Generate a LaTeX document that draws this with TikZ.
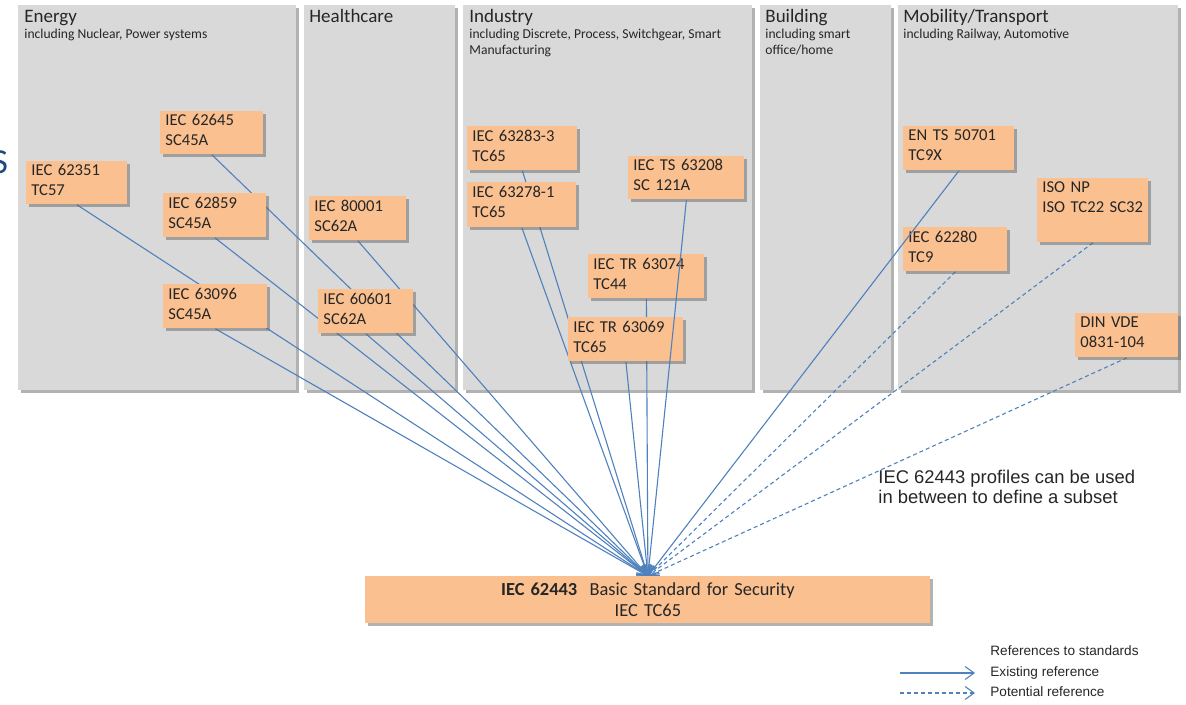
\documentclass[tikz,border=0pt]{standalone}
\usepackage{fontspec}
\setmainfont{Carlito}
\newfontfamily\arialfont{Liberation Sans}
\usetikzlibrary{shadows,arrows.meta,positioning,backgrounds}

\definecolor{panelgray}{HTML}{D9D9D9}
\definecolor{stdorange}{HTML}{FAC090}
\definecolor{refblue}{HTML}{4F81BD}
\definecolor{titleblue}{HTML}{1F497D}
\definecolor{inkgray}{HTML}{262626}

\pgfdeclarelayer{panels}
\pgfdeclarelayer{links}
\pgfsetlayers{panels,links,main}

\begin{document}
\begin{tikzpicture}
[x=0.5pt, y=-0.5pt,
panel/.style={shape=rectangle, fill=panelgray, anchor=north west, inner sep=0pt,
  drop shadow={shadow xshift=1.5pt, shadow yshift=-1.5pt, fill=black!60, opacity=.5}},
sectorhead/.style={anchor=base west, inner sep=0pt, text=inkgray, font=\fontsize{9.5}{11}\selectfont},
sectornote/.style={anchor=north west, inner sep=0pt, align=left, text=inkgray, font=\fontsize{6.8}{8}\selectfont},
%
std/.style={shape=rectangle, fill=stdorange, anchor=north west, align=left, inner xsep=2.5pt, inner ysep=0pt,
  text=inkgray, font=\fontsize{8.3}{10}\selectfont,
  drop shadow={shadow xshift=1.5pt, shadow yshift=-1.5pt, fill=black!60, opacity=.5}},
basestd/.style={std, align=center, font=\fontsize{9.2}{10.5}\selectfont},
%
stdref/.style={draw=refblue, line width=.55pt, -{Straight Barb[length=4.5pt,width=6.5pt]}},
potref/.style={stdref, dash pattern=on 2pt off 1.5pt},
legendtext/.style={anchor=base west, inner sep=0pt, text=inkgray, font=\arialfont\fontsize{6.8}{8}\selectfont}]

\useasboundingbox (0,0) rectangle (1186,705);

\node (cutS) [anchor=base, inner sep=0pt, text=titleblue, font=\fontsize{17.5}{20}\selectfont] at (0,174) {S};

% sectors
\begin{pgfonlayer}{panels}
\node (energy) [panel, minimum width=139pt, minimum height=192.5pt] at (18,5) {};
\node (health) [panel, minimum width=75.5pt, minimum height=192.5pt] at (304,5) {};
\node (industry) [panel, minimum width=144.5pt, minimum height=192.5pt] at (463,5) {};
\node (building) [panel, minimum width=65.5pt, minimum height=192.5pt] at (760,5) {};
\node (mobility) [panel, minimum width=140pt, minimum height=192.5pt] at (898,5) {};
\end{pgfonlayer}

\node (energyhead) [sectorhead] at (24,23) {Energy};
\node (energynote) [sectornote] at (24,29) {including Nuclear, Power systems};
\node (healthhead) [sectorhead] at (309,23) {Healthcare};
\node (industryhead) [sectorhead] at (469,23) {Industry};
\node (industrynote) [sectornote] at (469,29) {including Discrete, Process, Switchgear, Smart\\Manufacturing};
\node (buildinghead) [sectorhead] at (765,23) {Building};
\node (buildingnote) [sectornote] at (765,29) {including smart\\office/home};
\node (mobilityhead) [sectorhead] at (903,23) {Mobility/Transport};
\node (mobilitynote) [sectornote] at (903,29) {including Railway, Automotive};

% standards
\node (e62645) [std, text width=46.5pt, minimum height=21.5pt] at (160,111) {IEC 62645\\SC45A\strut};
\node (e62351) [std, text width=45.5pt, minimum height=21.5pt] at (26,161) {IEC 62351\\TC57\strut};
\node (e62859) [std, text width=46.5pt, minimum height=22pt] at (163,193) {IEC 62859\\SC45A\strut};
\node (e63096) [std, text width=47pt, minimum height=22pt] at (163,284) {IEC 63096\\SC45A\strut};
\node (h80001) [std, text width=43.5pt, minimum height=22pt] at (309,196) {IEC 80001\\SC62A\strut};
\node (h60601) [std, text width=42.5pt, minimum height=22pt] at (318,289) {IEC 60601\\SC62A\strut};
\node (i63283) [std, text width=50pt, minimum height=22pt] at (467,126) {IEC 63283-3\\TC65\strut};
\node (i63278) [std, text width=49.5pt, minimum height=22.5pt] at (467,182) {IEC 63278-1\\TC65\strut};
\node (i63208) [std, text width=53pt, minimum height=21.5pt] at (628,156) {IEC TS 63208\\SC 121A\strut};
\node (i63074) [std, text width=53pt, minimum height=22pt] at (588,254) {IEC TR 63074\\TC44\strut};
\node (i63069) [std, text width=52.5pt, minimum height=22pt] at (568,317) {IEC TR 63069\\TC65\strut};
\node (m50701) [std, text width=50.5pt, minimum height=22pt] at (903,126) {EN TS 50701\\TC9X\strut};
\node (mison) [std, text width=50.5pt, minimum height=32pt] at (1037,178) {ISO NP\\ISO TC22 SC32\\\strut};
\node (m62280) [std, text width=47pt, minimum height=22pt] at (903,227) {IEC 62280\\TC9\strut};
\node (mdinvde) [std, text width=46.5pt, minimum height=22pt] at (1075,313) {DIN VDE\\0831-104\strut};

\node (iec62443) [basestd, text width=277.5pt, minimum height=23.5pt] at (365,576) {\textbf{IEC 62443}\ \ Basic Standard for Security\\IEC TC65};

% references
\begin{pgfonlayer}{links}
\draw[stdref] (e62351.south) -- (iec62443.north);
\draw[stdref] (e62645.south) -- (iec62443.north);
\draw[stdref] (e62859.south) -- (iec62443.north);
\draw[stdref] (e63096.south) -- (iec62443.north);
\draw[stdref] (h80001.south) -- (iec62443.north);
\draw[stdref] (h60601.south) -- (iec62443.north);
\draw[stdref] (i63283.south) -- (iec62443.north);
\draw[stdref] (i63278.south) -- (iec62443.north);
\draw[stdref] (i63074.south) -- (iec62443.north);
\draw[stdref] (i63069.south) -- (iec62443.north);
\draw[potref] (m62280.south) -- (iec62443.north);
\draw[potref] (mison.south) -- (iec62443.north);
\draw[potref] (mdinvde.south) -- (iec62443.north);
\end{pgfonlayer}
\draw[stdref] (i63208.south) -- (iec62443.north);
\draw[stdref] (m50701.south) -- (iec62443.north);

\node (profilenote) [anchor=north west, inner sep=0pt, align=left, text=inkgray,
  font=\arialfont\fontsize{9.2}{10}\selectfont] at (878,470) {IEC 62443 profiles can be used\\in between to define a subset};

% legend
\node (legendhead) [legendtext] at (990,655) {References to standards};
\node (legendexist) [legendtext] at (990,676) {Existing reference};
\node (legendpot) [legendtext] at (990,696) {Potential reference};
\coordinate (existfrom) at (900,673);
\coordinate (existto) at (975,673);
\coordinate (potfrom) at (900,693);
\coordinate (potto) at (975,693);
\draw[stdref] (existfrom) -- (existto);
\draw[potref] (potfrom) -- (potto);

\end{tikzpicture}
\end{document}
